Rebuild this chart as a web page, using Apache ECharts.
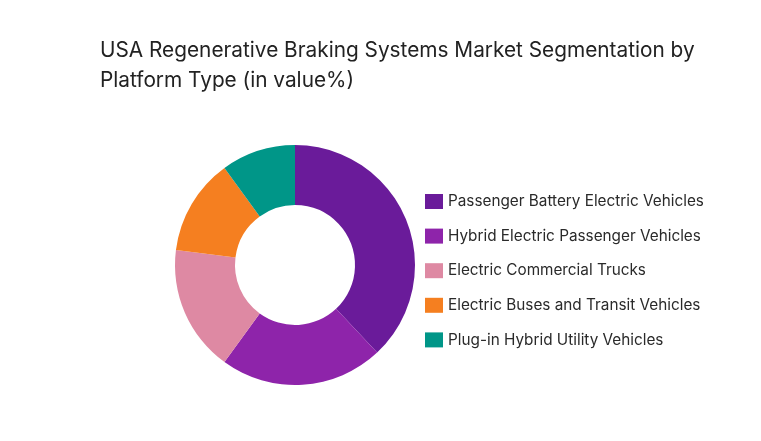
<!DOCTYPE html>
<html><head><meta charset="utf-8">
<script src="https://cdn.jsdelivr.net/npm/echarts@6/dist/echarts.min.js"></script>
<style>html,body{margin:0;padding:0;background:#fff}#c{width:761px;height:441px}</style>
</head><body><div id="c"></div>
<script>
const categories = ["Passenger Battery Electric Vehicles","Hybrid Electric Passenger Vehicles","Electric Commercial Trucks","Electric Buses and Transit Vehicles","Plug-in Hybrid Utility Vehicles"];
const values = [38, 22, 17, 13, 10];
const colors = ["#6A1B9A","#8E24AA","#DE89A3","#F57F20","#009688"];
const titleText = "USA Regenerative Braking Systems Market Segmentation by\nPlatform Type (in value%)";

const chart = echarts.init(document.getElementById('c'));
chart.setOption({
  backgroundColor:'#fff',
  animation:false,
  title:{text:titleText,left:95,top:31,textStyle:{fontFamily:'Inter',fontSize:20.8,fontWeight:'normal',color:'#222',lineHeight:30}},
  legend:{orient:'vertical',left:420,top:189,itemWidth:18,itemHeight:15,itemGap:19.6,icon:'rect',
    textStyle:{fontFamily:'Inter',fontSize:15.3,lineHeight:15,color:'#2a2a2a'},data:categories},
  series:[{type:'pie',center:[295,265],radius:[60,120],startAngle:90,clockwise:true,
    label:{show:false},labelLine:{show:false},
    data:categories.map((n,i)=>({name:n,value:values[i],itemStyle:{color:colors[i]}}))}]
});
</script></body></html>
